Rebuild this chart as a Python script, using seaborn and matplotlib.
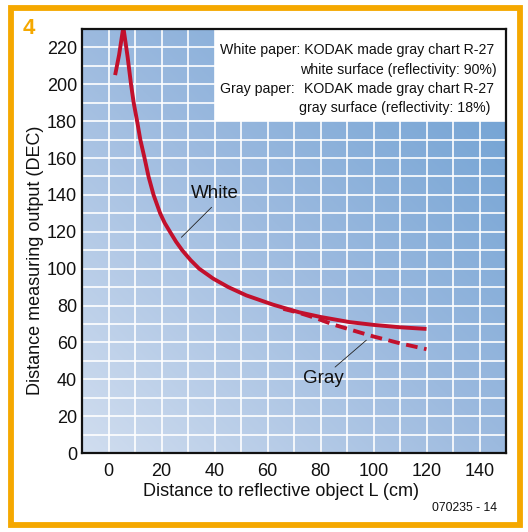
import numpy as np
import pandas as pd
import seaborn as sns
import matplotlib
matplotlib.use("Agg")
import matplotlib.pyplot as plt
from matplotlib.patches import Rectangle
from matplotlib.colors import LinearSegmentedColormap

# ---- data ----
white_x = [2.5, 4, 5.6, 7.2, 8.5, 9.5, 10.8, 12, 13.6, 15.1, 17, 19.5, 21.2, 23.2, 25.5, 27.8, 31, 34.2, 39.5, 45.2, 52, 62, 72, 80, 91, 100, 110, 120]
white_y = [205, 216, 231, 215, 200, 190, 180, 170, 160, 150, 140, 130, 124.8, 120, 114.6, 110, 104.6, 100, 94.6, 90, 85.5, 80.5, 76.3, 73.8, 71, 69.5, 68.2, 67.3]
gray_x = [66, 72, 78, 85, 92, 100, 110, 120]
gray_y = [78.2, 76.0, 73.3, 69.6, 66.6, 63.2, 59.5, 56.3]
x_ticks = [0, 20, 40, 60, 80, 100, 120, 140]
y_ticks = [0, 20, 40, 60, 80, 100, 120, 140, 160, 180, 200, 220]
note_line1 = "White paper: KODAK made gray chart R-27"
note_line2 = "white surface (reflectivity: 90%)"
note_line3a = "Gray paper:"
note_line3b = "KODAK made gray chart R-27"
note_line4 = "gray surface (reflectivity: 18%)"

sns.set_theme(style="white")
plt.rcParams['font.family'] = ['Liberation Sans', 'DejaVu Sans']

fig = plt.figure(figsize=(5.28, 5.32), dpi=100)
fig.patch.set_facecolor("white")

# orange frame
orange = "#f5a800"
fig.patches.append(Rectangle((10.5/528, 7.5/532), (519.5-10.5)/528, (524.5-7.5)/532,
                             transform=fig.transFigure, fill=False,
                             edgecolor=orange, linewidth=4.2, zorder=0))
fig.text(23/528, 1-29/532, "4", color=orange, fontsize=16, fontweight="bold",
         ha="left", va="center")

ax = fig.add_axes([82/528, 1-453/532, (506-82)/528, (453-29)/532])
ax.set_xlim(-10, 150)
ax.set_ylim(0, 230)

# gradient background
cmap = LinearSegmentedColormap.from_list("bg", ["#d0ddef", "#9cbadf", "#6c9fd2"])
u = np.linspace(0, 1, 200)
U, V = np.meshgrid(u, u)
G = (U + V) / 2
ax.imshow(G, extent=[0, 1, 0, 1], transform=ax.transAxes, origin="lower",
          cmap=cmap, aspect="auto", zorder=0, interpolation="bilinear")

ax.set_xticks(np.arange(-10, 151, 10), minor=True)
ax.set_yticks(np.arange(0, 231, 10), minor=True)
ax.set_xticks(x_ticks)
ax.set_yticks(y_ticks)
ax.grid(which="both", color="white", linewidth=1.2)
ax.set_axisbelow(True)
ax.tick_params(which="both", length=0, labelsize=13, colors="#111111")
ax.tick_params(axis="y", pad=3.5)
ax.tick_params(axis="x", pad=7)
for s in ax.spines.values():
    s.set_color("#111111")
    s.set_linewidth(1.6)
    s.set_zorder(6)

# white note box
ax.add_patch(Rectangle((40, 180), 110, 50, facecolor="white", edgecolor="none", zorder=2))
fs = 10.2
tc = "#111111"
ax.text(42.1, 218.4, note_line1, fontsize=fs, ha="left", va="center", zorder=3, color=tc)
ax.text(146.3, 207.6, note_line2, fontsize=fs, ha="right", va="center", zorder=3, color=tc)
ax.text(42.1, 197.3, note_line3a, fontsize=fs, ha="left", va="center", zorder=3, color=tc)
ax.text(145.4, 197.3, note_line3b, fontsize=fs, ha="right", va="center", zorder=3, color=tc)
ax.text(144.2, 187.0, note_line4, fontsize=fs, ha="right", va="center", zorder=3, color=tc)

red = "#c2102c"
df_w = pd.DataFrame({"x": white_x, "y": white_y})
df_g = pd.DataFrame({"x": gray_x, "y": gray_y})
sns.lineplot(data=df_g, x="x", y="y", ax=ax, color=red, linewidth=2.8, sort=False,
             linestyle=(0, (3.0, 1.7)), zorder=4)
sns.lineplot(data=df_w, x="x", y="y", ax=ax, color=red, linewidth=2.8, sort=False,
             zorder=5, solid_capstyle="butt", solid_joinstyle="round")

# annotations
ax.text(40, 140.5, "White", fontsize=13.5, ha="center", va="center", color=tc, zorder=5)
ax.plot([38.9, 27.5], [133.3, 117], color="#222222", linewidth=0.6, zorder=5)
ax.text(81, 40.5, "Gray", fontsize=13.5, ha="center", va="center", color=tc, zorder=5)
ax.plot([85.5, 97.3], [46.6, 61.2], color="#222222", linewidth=0.6, zorder=5)

ax.set_xlabel("Distance to reflective object L (cm)", fontsize=13, color=tc)
ax.set_ylabel("Distance measuring output (DEC)", fontsize=13, color=tc)
ax.xaxis.set_label_coords(0.469, -0.071)
ax.yaxis.set_label_coords(-0.090, 0.455)

fig.text(497/528, 1-508/532, "070235 - 14", fontsize=8.8, ha="right", va="center", color=tc)

fig.savefig("out.png", dpi=100)
